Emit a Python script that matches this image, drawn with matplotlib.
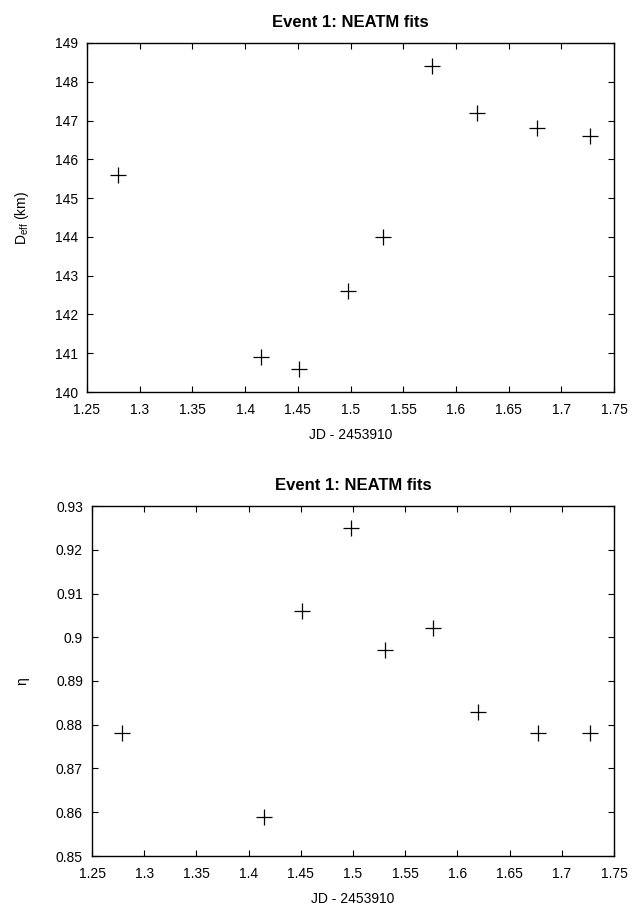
import matplotlib
matplotlib.use("Agg")
import matplotlib.pyplot as plt
from matplotlib.ticker import FuncFormatter, MultipleLocator

plt.rcParams['font.family'] = ['Liberation Sans', 'DejaVu Sans']
plt.rcParams['mathtext.fontset'] = 'custom'
plt.rcParams['mathtext.rm'] = 'Liberation Sans'

# Data
jd = [1.279, 1.415, 1.451, 1.498, 1.531, 1.577, 1.620, 1.677, 1.727]
deff = [145.6, 140.9, 140.6, 142.6, 144.0, 148.4, 147.2, 146.8, 146.6]
eta = [0.878, 0.859, 0.906, 0.925, 0.897, 0.902, 0.883, 0.878, 0.878]
title = "Event 1: NEATM fits"
xlabel = "JD - 2453910"
ylabel_top = r"D$_\mathregular{eff}$ (km)"
ylabel_bot = "η"

W, H = 636, 911
fig = plt.figure(figsize=(W / 100, H / 100), dpi=100)

def px_axes(l, r, t, b):
    return fig.add_axes([l / W, 1 - b / H, (r - l) / W, (b - t) / H])

ax1 = px_axes(87, 614, 43, 392)
ax2 = px_axes(92, 614, 506, 856)

fmt = FuncFormatter(lambda v, p: "%g" % round(v, 6))

def style(ax, ylim, ystep, ylab, xlab_off, ylab_off):
    ax.set_xlim(1.25, 1.75)
    ax.set_ylim(*ylim)
    ax.xaxis.set_major_locator(MultipleLocator(0.05))
    ax.yaxis.set_major_locator(MultipleLocator(ystep))
    ax.xaxis.set_major_formatter(fmt)
    ax.yaxis.set_major_formatter(fmt)
    ax.tick_params(direction='in', length=4.3, width=0.8, top=True, right=True,
                   labelsize=10, colors='black')
    ax.tick_params(axis='x', pad=8)
    ax.tick_params(axis='y', pad=6.5)
    for s in ax.spines.values():
        s.set_linewidth(1.0)
    ax.set_title(title, fontsize=12, fontweight='bold', pad=11.5)
    ax.set_xlabel(xlabel, fontsize=10, va='top')
    ax.set_ylabel(ylab, fontsize=10, va='center')
    ax.xaxis.set_label_coords(0.5, xlab_off)
    ax.yaxis.set_label_coords(ylab_off, 0.5)

ax1.plot(jd, deff, linestyle='none', marker='+', markersize=11.3, markeredgewidth=0.9, color='black')
ax2.plot(jd, eta, linestyle='none', marker='+', markersize=11.3, markeredgewidth=0.9, color='black')

style(ax1, (140, 149), 1, ylabel_top, -36 / 349, (22 - 87) / 527)
style(ax2, (0.85, 0.93), 0.01, ylabel_bot, -36 / 350, (22 - 92) / 522)

fig.savefig("out.png", dpi=100)
